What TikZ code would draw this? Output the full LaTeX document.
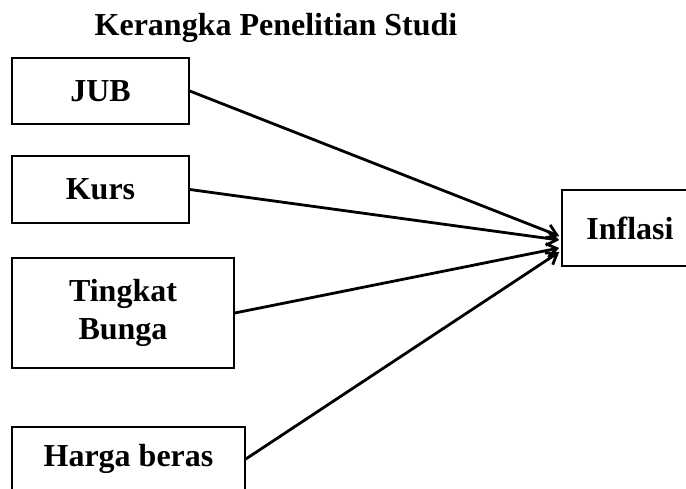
\documentclass[tikz,border=0pt]{standalone}
\usepackage{fontspec}
\setmainfont{Liberation Serif}
\usetikzlibrary{arrows.meta, positioning}

\begin{document}
\begin{tikzpicture}[
  x=1pt, y=-1pt,
  box/.style={draw, line width=1.6pt, align=center, inner sep=0pt, font=\fontsize{32}{38}\selectfont\bfseries},
  arr/.style={-{Straight Barb[length=10pt, width=14pt]}, line width=2.8pt}
]
\useasboundingbox (0,0) rectangle (686,488);
\node[anchor=base, font=\fontsize{32}{38}\selectfont\bfseries] (title) at (276,35) {Kerangka Penelitian Studi};

\node[box, minimum width=177pt, minimum height=66pt] (jub) at (100.5,91) {JUB};
\node[box, minimum width=177pt, minimum height=67pt] (kurs) at (100.5,189.5) {Kurs};
\node[box, minimum width=222pt, minimum height=110pt] (bunga) at (123,313) {Tingkat\\Bunga};
\node[box, minimum width=233pt, minimum height=64pt] (beras) at (128.5,459) {Harga beras};
\node[box, minimum width=136pt, minimum height=76pt] (inflasi) at (630,228) {Inflasi};

\draw[arr] (jub.east) -- ([xshift=-2pt, yshift=-8pt]inflasi.west);
\draw[arr] (kurs.east) -- ([xshift=-2pt, yshift=-12pt]inflasi.west);
\draw[arr] (bunga.east) -- ([xshift=-2pt, yshift=-20pt]inflasi.west);
\draw[arr] (beras.east) -- ([xshift=-2pt, yshift=-24pt]inflasi.west);
\end{tikzpicture}
\end{document}
